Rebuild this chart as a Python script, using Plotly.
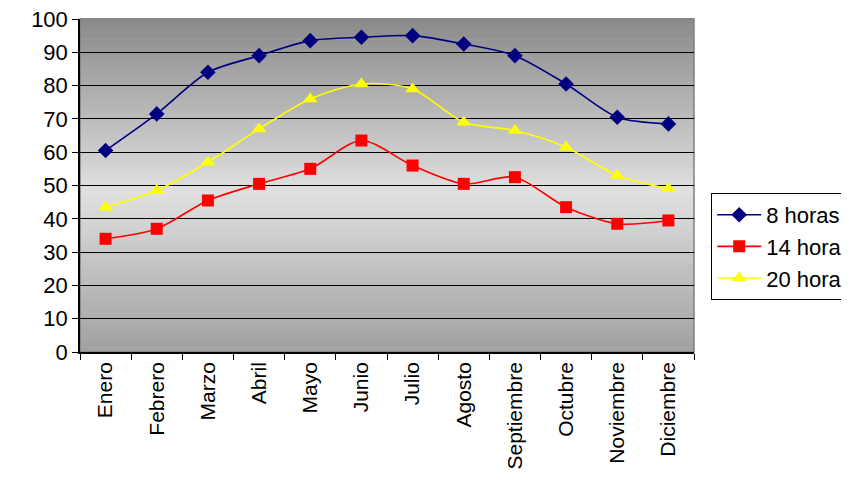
import plotly.graph_objects as go

MESES = ["Enero", "Febrero", "Marzo", "Abril", "Mayo", "Junio", "Julio",
         "Agosto", "Septiembre", "Octubre", "Noviembre", "Diciembre"]
H8 = [60.5, 71.5, 84, 89, 93.5, 94.5, 95, 92.5, 89, 80.5, 70.5, 68.5]
H14 = [34, 37, 45.5, 50.5, 55, 63.5, 56, 50.5, 52.5, 43.5, 38.5, 39.5]
H20 = [43.5, 48.5, 57, 67, 76, 80.5, 79, 69, 66.5, 61.5, 53, 49]

FONT = "Liberation Sans, Arial, sans-serif"


def gris(t):
    # degradado del fondo: oscuro abajo, claro al centro, oscuro arriba
    if t < 0.48:
        v = 0xa0 + (0xe0 - 0xa0) * t / 0.48
    else:
        v = 0xe0 - (0xe0 - 0x8a) * (t - 0.48) / 0.52
    v = int(round(v))
    return f"rgb({v},{v},{v})"


fig = go.Figure()
series = [
    ("8 horas", H8, "#000080", "diamond", 12),
    ("14 horas", H14, "#ff0000", "square", 12),
    ("20 horas", H20, "#ffff00", "triangle-up", 13),
]
for nombre, vals, color, simb, tam in series:
    fig.add_trace(go.Scatter(
        x=MESES, y=vals, name=nombre, mode="lines+markers",
        line=dict(color=color, width=1.6, shape="spline", smoothing=0.8),
        marker=dict(symbol=simb, size=tam, color=color)))

n = 80
for i in range(n):
    fig.add_shape(type="rect", xref="x domain", yref="y domain",
                  x0=0, x1=1, y0=i / n, y1=(i + 1) / n + 0.002,
                  fillcolor=gris((i + 0.5) / n), line_width=0, layer="below")
fig.add_shape(type="rect", xref="x domain", yref="y domain", x0=0, x1=1,
              y0=0, y1=1, line=dict(color="#808080", width=1.5), layer="below")

# la página añade 8 px de margen al cuerpo; se compensa aquí
fig.update_layout(
    width=849, height=489,
    margin=dict(l=72, r=163, t=11, b=145, autoexpand=False),
    paper_bgcolor="white", plot_bgcolor="rgba(0,0,0,0)",
    font=dict(family=FONT, size=20, color="black"),
    showlegend=True,
    legend=dict(x=1.028, y=0.317, xanchor="left", yanchor="middle",
                bordercolor="black", borderwidth=1, bgcolor="white",
                font=dict(size=22), tracegroupgap=0, itemwidth=44),
)
fig.update_xaxes(
    type="category", tickangle=-90, tickson="boundaries", ticks="outside",
    ticklen=6, tickcolor="black", showline=True, linecolor="black",
    linewidth=1.5, showgrid=False, tickfont=dict(size=21),
    range=[-0.5, 11.5], automargin=False)
fig.update_yaxes(
    range=[0, 100], dtick=10, ticks="outside", ticklen=6, tickcolor="black",
    showline=True, linecolor="black", linewidth=1.5, showgrid=True,
    gridcolor="black", gridwidth=1, tickfont=dict(size=22), zeroline=False,
    automargin=False, ticklabeloverflow="allow")

fig.write_html("out.html")
